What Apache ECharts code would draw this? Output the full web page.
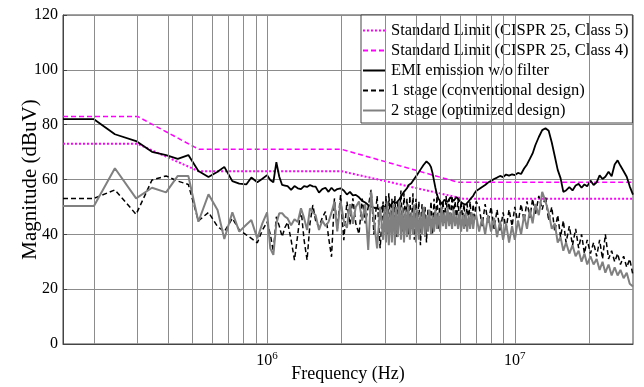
<!DOCTYPE html>
<html><head><meta charset="utf-8">
<script src="https://cdn.jsdelivr.net/npm/echarts@6/dist/echarts.min.js"></script>
<style>html,body{margin:0;padding:0;background:#fff}#c{width:644px;height:387px}</style>
</head><body><div id="c"></div>
<script>
// Frequencies in MHz
const freqMHz = [
  0.15, 0.2, 0.243, 0.296, 0.343, 0.391, 0.436, 0.481, 0.528, 0.58, 0.631, 0.672, 0.724, 0.772, 0.824, 0.864, 0.913, 0.957,
  1.0, 1.03, 1.06, 1.09, 1.12, 1.15, 1.18, 1.21, 1.25, 1.29,
  1.33, 1.37, 1.41, 1.45, 1.49, 1.53, 1.57, 1.62, 1.67, 1.72,
  1.77, 1.82, 1.87, 1.92, 1.98, 2.04, 2.1, 2.16, 2.22, 2.28,
  2.35, 2.42, 2.49, 2.56, 2.63, 2.7, 2.78, 2.86,
  2.94, 2.98, 3.02, 3.06, 3.1, 3.15, 3.19, 3.23, 3.28, 3.32,
  3.37, 3.42, 3.47, 3.52, 3.57, 3.62, 3.67, 3.72, 3.77, 3.82,
  3.88, 3.93, 3.99, 4.04, 4.1, 4.16, 4.22, 4.28, 4.34, 4.4,
  4.46, 4.52, 4.59, 4.65, 4.72, 4.78, 4.85, 4.92, 4.99, 5.06,
  5.13, 5.2, 5.28, 5.35, 5.43, 5.5, 5.58, 5.66, 5.74, 5.82,
  5.9, 5.98, 6.07, 6.15, 6.24, 6.33, 6.42, 6.51, 6.6, 6.69,
  6.79, 6.88, 6.98,
  7.18, 7.38, 7.59, 7.8, 8.02, 8.25, 8.48, 8.72, 8.97, 9.22,
  9.48, 9.75, 10.0, 10.3, 10.6, 10.9, 11.2, 11.5, 11.8, 12.1,
  12.5, 12.9, 13.3, 13.7, 14.1, 14.5, 14.9,
  15.3, 15.7, 16.1, 16.6, 17.1, 17.6, 18.1, 18.6, 19.1, 19.6,
  20.2, 20.8, 21.4, 22.0, 22.6, 23.2, 23.9, 24.6, 25.3, 26.0,
  26.7, 27.5, 28.3, 29.1, 30.0
];
const emiNoFilter = [
  82, 82, 76.5, 74, 70.1, 68.9, 67.5, 68.9, 63.1, 60.9, 62.8, 64.6, 59.4, 58.5, 58.2, 60.7, 59.0, 60.3,
  61.6, 59.8, 59.0, 66.3, 61, 58, 57.8, 57.6, 56.2, 57.6,
  56.8, 56.5, 57.6, 57.3, 58, 57.5, 57.4, 55.2, 56.5, 57.0,
  55.5, 57.0, 55.8, 56.5, 56.8, 56.0, 54.5, 55.5, 54.2, 54.4,
  53.5, 52.2, 51.6, 50.7, 50.2, 49.7, 49.5, 48.9,
  50.5, 51.2, 49.5, 50.6, 51.5, 50.2, 50.8, 52.0, 52.5, 51.4,
  51.8, 52.8, 53.5, 54.6, 55.5, 56.0, 56.8, 57.9, 58.5, 58.6,
  59.2, 60.3, 61, 61.8, 62.5, 63.6, 64.2, 65.3, 66.0, 66.6,
  66.3, 65.6, 64.5, 62.5, 59.5, 57.0, 54.5, 53.0, 52.2, 51.0,
  51.3, 52.6, 53.0, 51.8, 52.4, 53.5, 53.3, 52.2, 52.6, 53.6,
  53.1, 52.3, 52.0, 51.3, 51.6, 50.8, 51.2, 52.0, 52.8, 53.2,
  54.0, 55.0, 55.8,
  56.5, 57.3, 58.0, 58.9, 59.5, 60.2, 60.7, 61.3, 60.9, 61.8,
  61.4, 61.9, 61.6, 62.4, 62.0, 64.0, 65.5, 67.5, 69.5, 72.5,
  75.5, 78.0, 78.7, 77.8, 73.5, 68.5, 63.5,
  60.5, 55.5, 56.0, 57.2, 56.0, 57.8, 58.4, 57.0, 58.2, 57.5,
  59.6, 58.0, 59.0, 61.5, 60.2, 61.0, 62.8, 61.2, 65.5, 67.0,
  65.0, 63.0, 61.0, 57.5, 54.5
];
const stage1Conventional = [
  53.1, 53.1, 56.2, 47.3, 59.8, 61.3, 59.4, 58.2, 44.9, 48, 42.8, 41, 45.8, 41.6, 39.8, 38.5, 36.9, 41.5,
  44.5, 40, 33.7, 46.4, 43, 39.1, 42.5, 44.4, 38, 30.6,
  40, 49.5, 38, 30.6, 44, 50.7, 45, 42.7, 46, 48.3,
  39, 31.8, 53.1, 42, 54.3, 37.9, 51.9, 43.5, 53.1, 44,
  40.1, 53, 44, 50, 56.2, 40, 54, 34.9,
  52, 41, 54, 40, 55, 43, 53, 42, 54, 39,
  52, 44, 56, 41, 55, 45, 53, 40, 54, 42,
  55, 38, 53, 43, 52, 36, 51, 44, 50, 37,
  49, 43, 52, 40, 53, 44, 54, 42, 53, 45,
  52, 44, 54, 46, 53, 44, 54, 47, 52, 45,
  53, 44, 52, 46, 51, 43, 51, 45, 52, 44,
  51, 45, 52,
  50, 43, 51, 44, 50, 42, 49, 41, 48, 42,
  49, 43, 50, 44, 51, 45, 52, 46, 53, 47,
  54, 49, 54, 45, 50, 41, 47,
  39, 45, 37, 43, 36, 42, 35, 40, 33, 38,
  33, 37, 32, 38, 31, 40, 31, 34, 30, 33,
  29, 32, 28, 31, 25
];
const stage2Optimized = [
  50.3, 50.3, 64.1, 53.1, 57.0, 55.3, 61.3, 61.3, 44.6, 54.6, 48.9, 38.3, 48, 41, 43.5, 45.2, 38.5, 44,
  48, 34.9, 32.5, 44, 47.7, 47.7, 46.5, 45.8, 43.3, 45.5,
  44.5, 49.5, 46, 41.6, 49.5, 48, 47, 41.6, 45, 43,
  44.5, 48, 51.9, 41.1, 52.1, 45, 42.4, 51, 43.8, 50,
  52, 45, 51, 34.3, 55.5, 45, 34.9, 50,
  38, 50, 37, 52, 36, 49, 37, 51, 36, 50,
  39, 52, 38, 50, 37, 49, 39, 51, 38, 48,
  40, 51, 37, 49, 38, 48, 40, 50, 39, 47,
  41, 49, 40, 47, 41, 49, 42, 48, 41, 50,
  43, 48, 42, 50, 43, 48, 42, 49, 43, 47,
  42, 48, 41, 47, 42, 48, 41, 47, 42, 48,
  42, 46, 47,
  41, 46, 40, 47, 41, 46, 39, 45, 38, 44,
  37, 43, 38, 45, 40, 47, 42, 49, 44, 51,
  47, 55.5, 52, 48, 42, 44, 37,
  39, 34, 37, 33, 36, 32, 34, 30, 33, 29,
  32, 29, 31, 27, 30, 26, 29, 25, 28, 25,
  27, 24, 26, 22, 21
];
const class5FreqMHz = [0.15, 0.3, 0.53, 2.0, 6.2, 30];
const class5Limit = [73, 73, 63, 63, 53, 53];
const class4FreqMHz = [0.15, 0.3, 0.53, 2.0, 5.9, 30];
const class4Limit = [83, 83, 71, 71, 59, 59];
const xGridHz = [2e5, 3e5, 4e5, 5e5, 6e5, 7e5, 8e5, 9e5, 1e6, 2e6, 3e6, 4e6, 5e6, 6e6, 7e6, 8e6, 9e6, 1e7, 2e7];
const seriesNames = [
  'Standard Limit (CISPR 25, Class 5)',
  'Standard Limit (CISPR 25, Class 4)',
  'EMI emission w/o filter',
  '1 stage (conventional design)',
  '2 stage (optimized design)'
];

const FONT = 'Liberation Serif';
const GRID_COLOR = '#8c8c8c';
function pairs(fs, vs) { return fs.map((f, i) => [f * 1e6, vs[i]]); }
function lineSeries(name, fs, vs, color, width, type, z) {
  return {
    name, type: 'line', data: pairs(fs, vs), symbol: 'none', showSymbol: false,
    lineStyle: { color, width, type }, itemStyle: { color }, z,
    emphasis: { disabled: true }, animation: false
  };
}

const chart = echarts.init(document.getElementById('c'), null, { renderer: 'canvas' });
chart.setOption({
  animation: false,
  backgroundColor: '#fff',
  grid: {
    left: 63, top: 15, width: 570, height: 329, containLabel: false, outerBoundsMode: 'none',
    show: true, borderColor: '#444', borderWidth: 1, backgroundColor: 'transparent'
  },
  xAxis: {
    type: 'log', logBase: 10, min: 1.5e5, max: 3e7,
    axisLine: { show: true, lineStyle: { color: '#444' } },
    axisTick: { show: false },
    splitLine: { show: false },
    axisLabel: {
      showMinLabel: false, showMaxLabel: false, margin: 7,
      color: '#000', fontFamily: FONT, fontSize: 16,
      formatter: v => {
        const e = Math.log10(v);
        if (Math.abs(e - Math.round(e)) < 1e-6) return '10{sup|' + Math.round(e) + '}';
        return '';
      },
      rich: { sup: { fontSize: 11, fontFamily: FONT, color: '#000', verticalAlign: 'top', padding: [0, 0, 8, 0] } }
    },
    name: 'Frequency (Hz)', nameLocation: 'middle', nameGap: 21, nameMoveOverlap: false,
    nameTextStyle: { fontFamily: FONT, fontSize: 18, color: '#000' }
  },
  yAxis: {
    type: 'value', min: 0, max: 120, interval: 20,
    axisLine: { show: true, lineStyle: { color: '#444' } },
    axisTick: { show: true, inside: true, length: 4, lineStyle: { color: '#444' } },
    splitLine: { show: true, lineStyle: { color: GRID_COLOR, width: 1 } },
    axisLabel: { color: '#000', fontFamily: FONT, fontSize: 16, margin: 5 },
    name: 'Magnitude (dBuV)', nameLocation: 'middle', nameGap: 22, nameMoveOverlap: false,
    nameTextStyle: { fontFamily: FONT, fontSize: 21, color: '#000' }
  },
  legend: {
    data: seriesNames, orient: 'vertical', left: 361, top: 15,
    padding: [7, 4, 4, 1], itemGap: 3, itemWidth: 23, itemHeight: 17,
    backgroundColor: '#fff', borderColor: '#444', borderWidth: 1, borderRadius: 0,
    itemStyle: { color: 'rgba(0,0,0,0)', borderWidth: 0, opacity: 0 },
    textStyle: { fontFamily: FONT, fontSize: 16.5, color: '#000' },
    selectedMode: false
  },
  series: [
    {
      type: 'line', data: [], silent: true, z: 1,
      markLine: {
        silent: true, symbol: ['none', 'none'], label: { show: false },
        lineStyle: { color: GRID_COLOR, type: 'solid', width: 1 },
        emphasis: { disabled: true },
        data: xGridHz.map(v => ({ xAxis: v }))
      }
    },
    lineSeries(seriesNames[0], class5FreqMHz, class5Limit, '#ff00ff', 2, 'dotted', 3),
    lineSeries(seriesNames[1], class4FreqMHz, class4Limit, '#ff00ff', 1.5, [5, 3], 3),
    lineSeries(seriesNames[2], freqMHz, emiNoFilter, '#000000', 1.8, 'solid', 4),
    lineSeries(seriesNames[3], freqMHz, stage1Conventional, '#000000', 1.5, [5, 3], 5),
    lineSeries(seriesNames[4], freqMHz, stage2Optimized, '#808080', 2, 'solid', 6)
  ]
});
</script>
</body></html>
